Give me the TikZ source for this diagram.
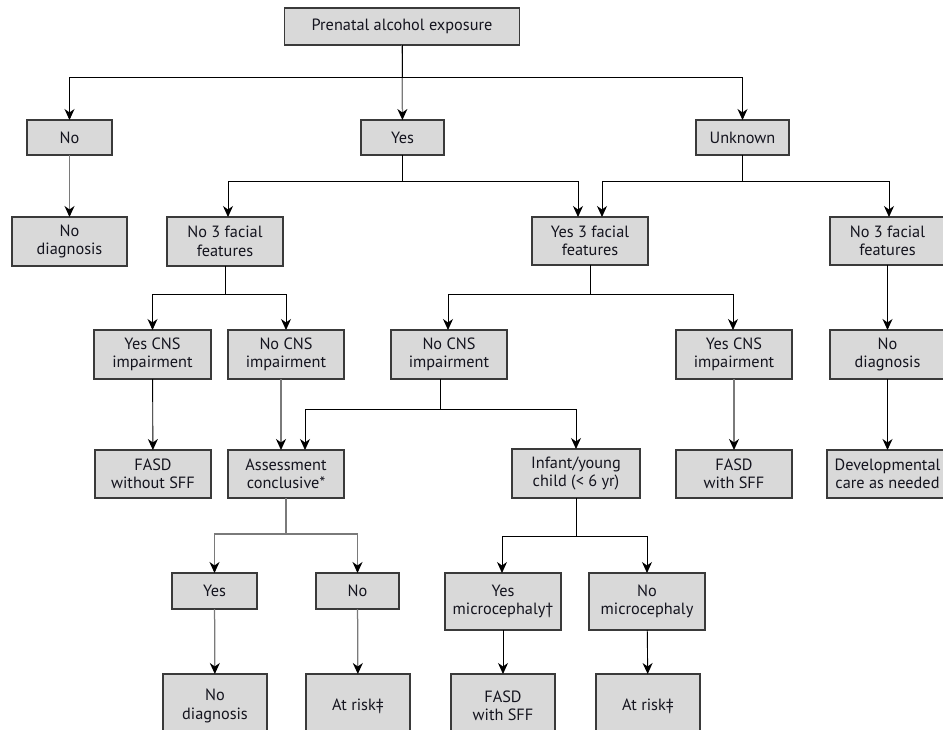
\documentclass[tikz,border=0pt]{standalone}
\usepackage{fontspec}
\setmainfont{PT Sans}
\usetikzlibrary{arrows.meta}
\definecolor{boxfill}{HTML}{D9D9D9}
\definecolor{boxline}{HTML}{3A3A3A}
\definecolor{txt}{HTML}{14141E}
\definecolor{lgray}{HTML}{7A7A7A}
\tikzset{
  box/.style={draw=boxline, fill=boxfill, line width=1.3pt, inner sep=0pt, outer sep=0pt,
    align=center, text=txt, font=\fontsize{16.3}{18.5}\selectfont},
  conn/.style={line width=0.9pt, draw=black},
  arr/.style={conn, -{Stealth[length=11pt,width=10pt,inset=3.5pt,black]}},
  garr/.style={arr, draw=lgray, line width=1.25pt},
  gconn/.style={conn, draw=lgray, line width=1.25pt},
}
\begin{document}
\begin{tikzpicture}[x=1pt,y=-1pt]
\useasboundingbox (0,0) rectangle (943,730);
% row 1
\node[box, minimum width=235, minimum height=37] (pae) at (402,26.5) {Prenatal alcohol exposure};
% row 2
\node[box, minimum width=85, minimum height=35] (no) at (69.5,137.5) {No};
\node[box, minimum width=83, minimum height=35] (yes) at (402.5,137.5) {Yes};
\node[box, minimum width=93, minimum height=35] (unk) at (742.5,137.5) {Unknown};
% row 3
\node[box, minimum width=115, minimum height=49] (nodx1) at (69.5,241.5) {No\\diagnosis};
\node[box, minimum width=116, minimum height=49] (no3L) at (225,241.5) {No 3 facial\\features};
\node[box, minimum width=116, minimum height=48] (yes3) at (590,241) {Yes 3 facial\\features};
\node[box, minimum width=115, minimum height=48] (no3R) at (887.5,241) {No 3 facial\\features};
% row 4
\node[box, minimum width=117, minimum height=49] (yesCNSL) at (152.5,354.5) {Yes CNS\\impairment};
\node[box, minimum width=116, minimum height=49] (noCNSL) at (286,354.5) {No CNS\\impairment};
\node[box, minimum width=116, minimum height=49] (noCNSM) at (449,354.5) {No CNS\\impairment};
\node[box, minimum width=116, minimum height=49] (yesCNSR) at (734,354.5) {Yes CNS\\impairment};
\node[box, minimum width=115, minimum height=49] (nodxR) at (887.5,354.5) {No\\diagnosis};
% row 5
\node[box, minimum width=116, minimum height=48] (fasdwo) at (153,474) {FASD\\without SFF};
\node[box, minimum width=116, minimum height=48] (assess) at (286,474) {Assessment\\conclusive*};
\node[box, minimum width=128, minimum height=49] (infant) at (576,473.5) {Infant/young\\child (< 6 yr)};
\node[box, minimum width=116, minimum height=48] (fasdR) at (734,474) {FASD\\with SFF};
\node[box, minimum width=121, minimum height=48] (devel) at (887.5,474) {Developmental\\care as needed};
% row 6
\node[box, minimum width=85, minimum height=36] (yesA) at (214.5,591) {Yes};
\node[box, minimum width=83, minimum height=36] (noA) at (357.5,591) {No};
\node[box, minimum width=116, minimum height=57] (yesMic) at (503,601.5) {Yes\\microcephaly†};
\node[box, minimum width=116, minimum height=57] (noMic) at (647,601.5) {No\\microcephaly};
% row 7
\node[box, minimum width=104, minimum height=64] (nodxB) at (215,706) {No\\diagnosis};
\node[box, minimum width=104, minimum height=64] (risk1) at (358,706) {At risk‡};
\node[box, minimum width=104, minimum height=64] (fasdB) at (503,706) {FASD\\with SFF};
\node[box, minimum width=104, minimum height=64] (risk2) at (648,706) {At risk‡};

% junction coordinates
\coordinate (j1) at (402,77);
\coordinate (j2) at (402.5,181);
\coordinate (j3) at (742.5,181);
\coordinate (j4) at (225,294);
\coordinate (j5) at (590,294);
\coordinate (j6) at (440,409);
\coordinate (j7) at (286,534);
\coordinate (j8) at (576,536);

% connectors
\draw[garr] (pae) -- (yes);
\draw[conn] (pae.south) -- (j1);
\draw[arr] (j1) -| (no);
\draw[arr] (j1) -| (unk);
\draw[garr] (no) -- (nodx1);

\draw[conn] (yes) -- (j2);
\draw[arr] (j2) -| ([xshift=3]no3L.north);
\draw[arr] (j2) -| ([xshift=-12]yes3.north);
\draw[conn] (unk) -- (j3);
\draw[arr] (j3) -| ([xshift=12]yes3.north);
\draw[arr] (j3) -| ([xshift=1.5]no3R.north);

\draw[conn] (no3L) -- (j4);
\draw[arr] (j4) -| (yesCNSL);
\draw[arr] (j4) -| (noCNSL);
\draw[conn] (yes3) -- (j5);
\draw[arr] (j5) -| ([xshift=-1]noCNSM.north);
\draw[arr] (j5) -| ([xshift=-1]yesCNSR.north);
\draw[arr] (no3R) -- (nodxR);

\draw[arr] (yesCNSL) -- (fasdwo);
\draw[garr] ([xshift=-5]noCNSL.south) -- ([xshift=-5]assess.north);
\draw[conn] ([xshift=-9]noCNSM.south) -- (j6);
\draw[arr] (j6) -| ([xshift=19]assess.north);
\draw[arr] (j6) -| (infant);
\draw[garr] (yesCNSR) -- (fasdR);
\draw[arr] (nodxR) -- (devel);

\draw[gconn] (assess) -- (j7);
\draw[garr] (j7) -| (yesA);
\draw[garr] (j7) -| (noA);
\draw[conn] (infant) -- (j8);
\draw[arr] (j8) -| ([xshift=-1]yesMic.north);
\draw[arr] (j8) -| (noMic);

\draw[garr] (yesA) -- (nodxB);
\draw[garr] (noA) -- (risk1);
\draw[arr] (yesMic) -- (fasdB);
\draw[arr] (noMic) -- (risk2);
\end{tikzpicture}
\end{document}
